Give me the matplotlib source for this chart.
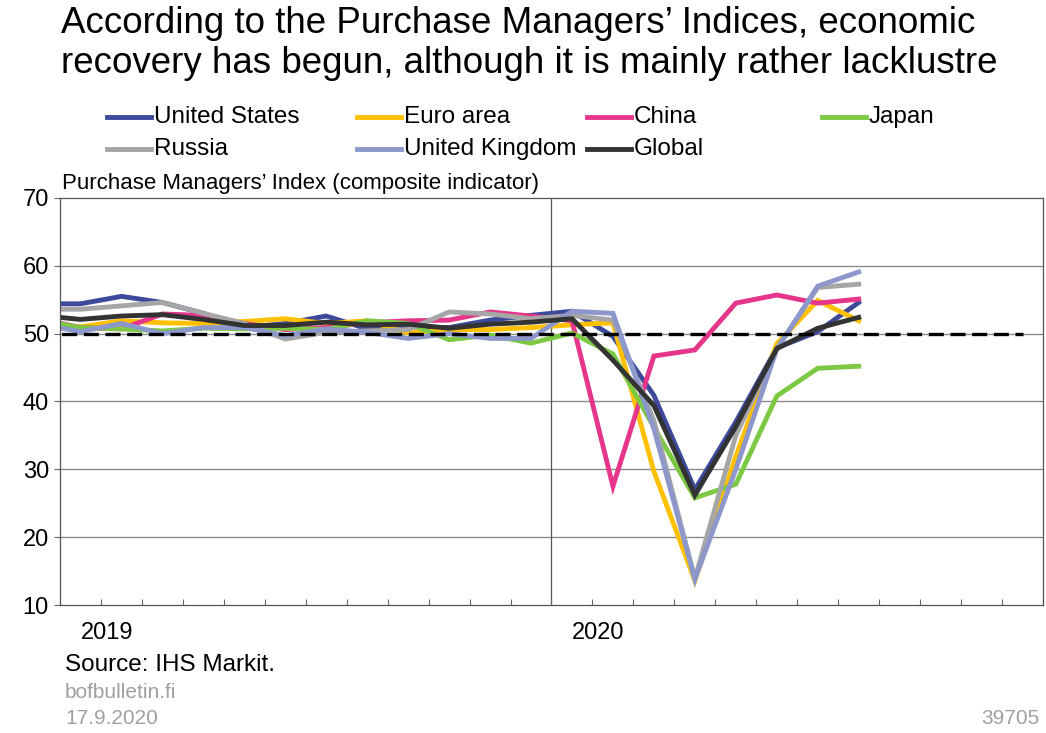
import numpy as np
import matplotlib.pyplot as plt
from matplotlib.lines import Line2D

plt.rcParams['font.family'] = ['Liberation Sans', 'DejaVu Sans']

# months: Dec 2018 = -1, Jan 2019 = 0, ... Aug 2020 = 19 (points at mid-month)
months = np.arange(-1, 20)

us = [54.4, 54.4, 55.5, 54.6, 53.0, 50.9, 51.5, 52.6, 50.7, 51.0, 50.9, 52.0, 52.7,
      53.3, 49.6, 40.9, 27.0, 37.0, 47.9, 50.3, 54.6]
euro = [51.1, 51.0, 51.9, 51.6, 51.5, 51.8, 52.2, 51.5, 51.9, 50.1, 50.6, 50.6, 50.9,
        51.3, 51.6, 29.7, 13.6, 31.9, 48.5, 54.9, 51.9]
china = [52.2, 50.9, 50.7, 52.9, 52.7, 51.5, 50.6, 50.9, 51.6, 51.9, 52.0, 53.2, 52.6,
         51.9, 27.5, 46.7, 47.6, 54.5, 55.7, 54.5, 55.1]
japan = [52.0, 50.9, 50.7, 50.4, 50.8, 50.7, 50.8, 50.6, 51.9, 51.5, 49.1, 49.8, 48.6,
         50.1, 47.0, 36.2, 25.8, 27.8, 40.8, 44.9, 45.2]
russia = [53.6, 53.6, 54.1, 54.6, 53.0, 51.5, 49.2, 50.2, 50.4, 50.6, 53.2, 52.9, 52.2,
          52.7, 52.0, 37.2, 13.9, 35.0, 47.8, 56.8, 57.3]
uk = [51.4, 50.3, 51.5, 50.0, 50.9, 50.9, 49.7, 50.7, 50.2, 49.3, 50.0, 49.3, 49.3,
      53.3, 53.0, 36.0, 13.8, 30.0, 47.7, 57.0, 59.1]
glob = [52.7, 52.1, 52.6, 52.8, 52.1, 51.2, 51.2, 51.7, 51.3, 51.4, 50.8, 51.4, 51.7,
        52.2, 46.1, 39.4, 26.2, 36.3, 47.8, 50.8, 52.4]

# 50 = expansion / contraction threshold, Dec 2018 .. Dec 2020
thr_months = np.arange(-1, 24)
threshold = [50] * len(thr_months)

names = ['United States', 'Euro area', 'China', 'Japan', 'Russia', 'United Kingdom', 'Global']
colors = ['#3d4a9c', '#ffc000', '#e6368c', '#7dc943', '#a6a6a6', '#8c98cc', '#333333']
series = [us, euro, china, japan, russia, uk, glob]

fig = plt.figure(figsize=(10.46, 7.33), dpi=100)
ax = fig.add_axes([60 / 1046, 1 - 605 / 733, 983 / 1046, 407 / 733])

for y in [20, 30, 40, 50, 60]:
    ax.axhline(y, color='#8a8a8a', lw=1.0, zorder=0)
ax.axvline(11.5, color='#555555', lw=0.9, zorder=0)

for vals, c in zip(series, colors):
    ax.plot(months, vals, color=c, lw=3.5, solid_joinstyle='miter', zorder=2)
ax.plot(thr_months, threshold, color='black', lw=2.4, ls=(0, (4.5, 2)), zorder=3)

ax.set_xlim(-0.5, 23.5)
ax.set_ylim(10, 70)
ax.set_yticks([10, 20, 30, 40, 50, 60, 70])
ax.set_xticks(np.arange(-0.5, 24, 1))
ax.set_xticklabels([])
ax.tick_params(axis='x', direction='in', length=4, color='#666666', width=0.8)
ax.tick_params(axis='y', direction='out', length=4, color='#666666', width=0.8,
               labelsize=17, pad=4)
for s in ax.spines.values():
    s.set_color('#555555')
    s.set_linewidth(0.9)

# year labels
ax.text(0.0, -0.07, '2019', transform=ax.get_xaxis_transform(), fontsize=17,
        ha='left', va='center')
ax.text(12.0, -0.07, '2020', transform=ax.get_xaxis_transform(), fontsize=17,
        ha='left', va='center')

W, H = 1046, 733
fig.text(61 / W, 1 - 6 / H,
         'According to the Purchase Managers\u2019 Indices, economic\n'
         'recovery has begun, although it is mainly rather lacklustre',
         fontsize=26.5, ha='left', va='top', linespacing=1.17)

# legend, drawn by hand in 4 fixed columns
col_x = [107, 357, 587, 822]
row_y = [117, 149]
for i, (nm, c) in enumerate(zip(names, colors)):
    cx = col_x[i % 4]
    cy = row_y[i // 4]
    fig.add_artist(Line2D([cx / W, (cx + 44) / W], [1 - cy / H, 1 - cy / H],
                          color=c, lw=3.5, transform=fig.transFigure))
    fig.text((cx + 47) / W, 1 - cy / H, nm, fontsize=17.5, ha='left', va='center')

fig.text(62 / W, 1 - 183 / H, 'Purchase Managers\u2019 Index (composite indicator)',
         fontsize=16, ha='left', va='center')

fig.text(65 / W, 1 - 665 / H, 'Source: IHS Markit.', fontsize=17.5, ha='left', va='center')
fig.text(65 / W, 1 - 692 / H, 'bofbulletin.fi', fontsize=15, ha='left', va='center',
         color='#a0a0a0')
fig.text(65 / W, 1 - 719 / H, '17.9.2020', fontsize=15, ha='left', va='center',
         color='#a0a0a0')
fig.text(1040 / W, 1 - 719 / H, '39705', fontsize=15, ha='right', va='center',
         color='#a0a0a0')

fig.savefig('out.png', dpi=100)
